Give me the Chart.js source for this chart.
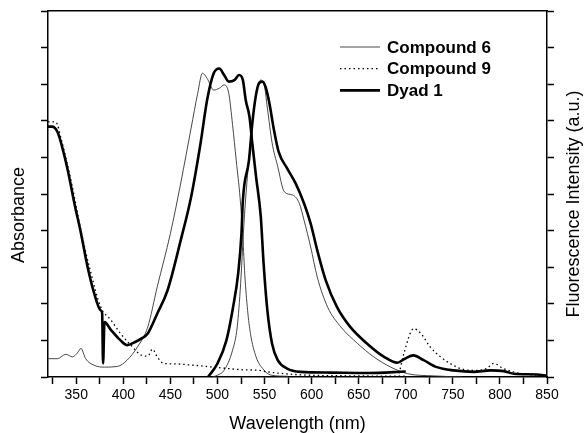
<!DOCTYPE html>
<html>
<head>
<meta charset="utf-8">
<script src="https://cdn.jsdelivr.net/npm/chart.js@4/dist/chart.umd.min.js"></script>
<style>
  html, body { margin: 0; padding: 0; background: #fff; }
</style>
</head>
<body>
<canvas id="spectraChart" width="586" height="433"></canvas>
<script>
// Series names shown in the legend
const seriesNames = ["Compound 6", "Compound 9", "Dyad 1"];

// Absorbance spectra (wavelength in nm, normalised value)
const c6AbsNm  = [320, 330, 339, 346, 351, 355, 360, 369, 380, 394, 404, 415, 426, 436, 450, 461, 472, 479, 484, 489, 496, 502, 507, 512, 516, 520, 524, 527, 529, 532, 535, 541, 548, 557, 575];
const c6AbsVal = [0.5, 0.5, 0.62, 0.55, 0.65, 0.78, 0.5, 0.32, 0.27, 0.29, 0.46, 0.82, 1.37, 2.46, 3.92, 5.3, 6.8, 7.75, 8.3, 8.16, 7.84, 7.89, 7.98, 7.75, 6.9, 5.9, 4.9, 3.8, 2.8, 1.82, 1.19, 0.55, 0.23, 0.05, 0.02];

const c9AbsNm  = [320, 328, 335, 345, 355, 365, 376, 387, 397, 408, 419, 426, 431, 436, 443, 454, 475, 500, 525, 544, 553, 588, 650, 700];
const c9AbsVal = [6.97, 6.97, 6.4, 5.3, 4.0, 2.9, 1.91, 1.55, 1.19, 0.87, 0.6, 0.57, 0.76, 0.55, 0.37, 0.36, 0.32, 0.26, 0.2, 0.18, 0.14, 0.06, 0.03, 0.02];

const dyadAbsNm  = [320, 324, 330, 335, 341, 348, 355, 362, 369, 376, 377.5, 378.5, 380, 387, 397, 404, 412, 419, 426, 436, 447, 461, 472, 482, 489, 496, 502, 507, 512, 518, 523, 527, 530, 534, 537, 541, 546, 549, 553, 558, 564, 574, 588, 620, 660, 700];
const dyadAbsVal = [6.84, 6.84, 6.7, 6.29, 5.65, 4.75, 3.93, 3.01, 2.29, 1.82, 1.75, 0.37, 1.5, 1.28, 1.0, 0.87, 0.95, 1.05, 1.19, 1.73, 2.37, 3.74, 4.92, 6.38, 7.57, 8.3, 8.43, 8.25, 8.07, 8.11, 8.25, 8.11, 7.57, 7.11, 6.38, 5.47, 4.38, 3.1, 1.82, 0.91, 0.46, 0.23, 0.14, 0.12, 0.11, 0.15];

// Fluorescence spectra
const c6FlNm  = [495, 500, 507, 516, 521, 524.6, 527.5, 530, 535, 539, 542.4, 546, 549.4, 553, 558, 564, 571, 580, 587, 592, 599, 606, 617, 631, 649, 666, 684, 702, 730, 760];
const c6FlVal = [0, 0.05, 0.18, 0.73, 1.37, 2.55, 3.92, 4.9, 6.38, 7.38, 7.93, 8.11, 8.02, 7.35, 6.4, 5.75, 5.06, 4.97, 4.74, 4.28, 3.55, 2.73, 1.91, 1.37, 0.91, 0.55, 0.27, 0.09, 0.03, 0];

const c9FlNm  = [693, 698, 708.5, 716, 726, 737, 747, 758, 772, 786, 793, 804, 822, 843, 850];
const c9FlVal = [0.1, 0.64, 1.32, 1.19, 0.82, 0.55, 0.37, 0.23, 0.18, 0.23, 0.37, 0.23, 0.09, 0.05, 0.03];

const dyadFlNm  = [490, 500, 509.5, 516.6, 522, 525.5, 527, 533.5, 537, 540.6, 544, 547.7, 551, 555, 560, 565, 574, 583, 592, 599, 606, 615, 627, 641, 659, 677, 691, 699, 708, 719, 733, 751, 772, 790, 804, 815, 839, 850];
const dyadFlVal = [0, 0.37, 1.0, 1.91, 2.83, 3.92, 4.83, 5.93, 6.93, 7.66, 8.02, 8.07, 7.93, 7.5, 6.75, 6.15, 5.7, 5.29, 4.74, 4.19, 3.46, 2.64, 1.91, 1.37, 0.91, 0.55, 0.39, 0.5, 0.59, 0.46, 0.27, 0.18, 0.14, 0.18, 0.16, 0.09, 0.07, 0.03];

// Axis range
const xMin = 320, xMax = 850, xStep = 25, xLabelStep = 50;
const yMin = 0, yMax = 10;

const FONT = '"Liberation Sans", Arial, Helvetica, sans-serif';

// Line styles per series (index matches seriesNames)
const lineStyles = [
  { borderColor: "#333", borderWidth: 0.9, borderDash: [] },
  { borderColor: "#000", borderWidth: 1.3, borderDash: [1.5, 3] },
  { borderColor: "#000", borderWidth: 2.6, borderDash: [] },
];

function toPoints(nm, val) {
  return nm.map((x, i) => ({ x: x, y: val[i] }));
}

function makeDataset(nm, val, styleIdx, label) {
  const s = lineStyles[styleIdx];
  return {
    label: label,
    data: toPoints(nm, val),
    borderColor: s.borderColor,
    borderWidth: s.borderWidth,
    borderDash: s.borderDash,
    pointRadius: 0,
    fill: false,
    cubicInterpolationMode: "monotone",
    borderJoinStyle: "round",
    order: 2 - styleIdx,
  };
}

// Legend drawn inside the plot (top right)
const insideLegend = {
  id: "insideLegend",
  afterDraw(chart) {
    const ctx = chart.ctx;
    ctx.save();
    ctx.font = "bold 17px " + FONT;
    ctx.fillStyle = "#000";
    ctx.textBaseline = "middle";
    seriesNames.forEach((name, i) => {
      const s = lineStyles[i];
      const y = 47 + i * 21.7;
      ctx.beginPath();
      ctx.strokeStyle = s.borderColor;
      ctx.lineWidth = s.borderWidth;
      ctx.setLineDash(s.borderDash);
      ctx.moveTo(340, y);
      ctx.lineTo(380, y);
      ctx.stroke();
      ctx.setLineDash([]);
      ctx.fillText(name, 387, y + 1);
    });
    ctx.restore();
  },
};

// Both vertical titles read bottom-to-top
const sideTitles = {
  id: "sideTitles",
  afterDraw(chart) {
    const ctx = chart.ctx;
    const titles = [
      { text: "Absorbance", x: 19, y: 215 },
      { text: "Fluorescence Intensity (a.u.)", x: 574, y: 204 },
    ];
    ctx.save();
    ctx.font = "18px " + FONT;
    ctx.fillStyle = "#000";
    ctx.textAlign = "center";
    ctx.textBaseline = "middle";
    titles.forEach((t) => {
      ctx.save();
      ctx.translate(t.x, t.y);
      ctx.rotate(-Math.PI / 2);
      ctx.fillText(t.text, 0, 0);
      ctx.restore();
    });
    ctx.restore();
  },
};

const yAxisBase = {
  min: yMin,
  max: yMax,
  ticks: { display: false, stepSize: 1 },
  grid: { drawOnChartArea: false, color: "#000", tickLength: 7, tickWidth: 1.5 },
  border: { color: "#000", width: 1.5 },
};

const ctx = document.getElementById("spectraChart").getContext("2d");
new Chart(ctx, {
  type: "line",
  data: {
    datasets: [
      makeDataset(c6AbsNm, c6AbsVal, 0, seriesNames[0]),
      makeDataset(c6FlNm, c6FlVal, 0, seriesNames[0]),
      makeDataset(c9AbsNm, c9AbsVal, 1, seriesNames[1]),
      makeDataset(c9FlNm, c9FlVal, 1, seriesNames[1]),
      makeDataset(dyadAbsNm, dyadAbsVal, 2, seriesNames[2]),
      makeDataset(dyadFlNm, dyadFlVal, 2, seriesNames[2]),
    ],
  },
  options: {
    responsive: false,
    animation: false,
    devicePixelRatio: 1,
    layout: { padding: 0 },
    plugins: {
      legend: { display: false },
      tooltip: { enabled: false },
    },
    scales: {
      x: {
        type: "linear",
        position: "bottom",
        min: xMin,
        max: xMax,
        grid: { drawOnChartArea: false, color: "#000", tickLength: 7, tickWidth: 1.5 },
        border: { color: "#000", width: 1.5 },
        ticks: {
          stepSize: xStep,
          includeBounds: false,
          autoSkip: false,
          maxRotation: 0,
          color: "#000",
          padding: 3,
          font: { size: 14, family: FONT },
          callback: (v) => (v % xLabelStep === 0 ? String(v) : ""),
        },
        title: {
          display: true,
          text: "Wavelength (nm)",
          color: "#000",
          font: { size: 18, family: FONT, lineHeight: 1 },
          padding: { top: 0, bottom: 0 },
        },
        afterFit: (s) => { s.height = 56; },
      },
      xTop: {
        type: "linear",
        position: "top",
        min: xMin,
        max: xMax,
        ticks: { display: false },
        grid: { drawOnChartArea: false, drawTicks: false },
        border: { color: "#000", width: 1.5 },
        afterFit: (s) => { s.height = 11; },
      },
      y: Object.assign({}, yAxisBase, {
        position: "left",
        afterFit: (s) => { s.width = 48; },
      }),
      yRight: Object.assign({}, yAxisBase, {
        position: "right",
        afterFit: (s) => { s.width = 39; },
      }),
    },
  },
  plugins: [insideLegend, sideTitles],
});
</script>
</body>
</html>
